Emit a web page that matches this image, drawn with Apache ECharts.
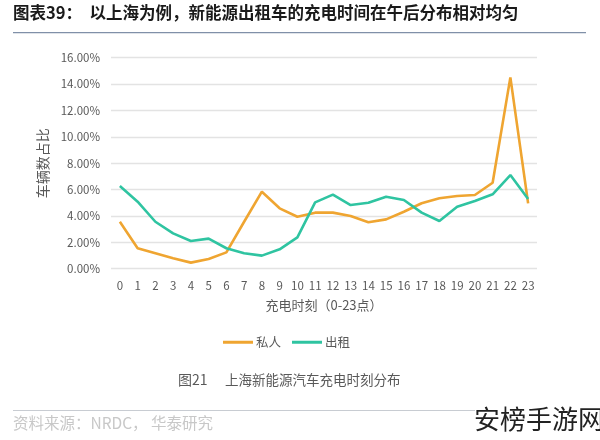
<!DOCTYPE html>
<html><head><meta charset="utf-8">
<script src="https://cdn.jsdelivr.net/npm/echarts@6/dist/echarts.min.js"></script>
<style>html,body{margin:0;padding:0;background:#fff}#c{width:600px;height:440px}</style>
</head><body><div id="c"></div>
<script>
var hours = ['0','1','2','3','4','5','6','7','8','9','10','11','12','13','14','15','16','17','18','19','20','21','22','23'];
var privateVals = [3.56,1.55,1.17,0.79,0.46,0.74,1.24,3.56,5.84,4.58,3.94,4.25,4.25,4.0,3.52,3.74,4.32,4.96,5.34,5.51,5.59,6.52,14.51,4.95];
var taxiVals = [6.27,5.08,3.56,2.68,2.1,2.28,1.55,1.17,0.99,1.47,2.38,5.03,5.62,4.83,5.0,5.46,5.21,4.25,3.62,4.70,5.13,5.64,7.1,5.28];
var yTicks = [0,2,4,6,8,10,12,14,16];
var FONT = '"Noto Sans CJK SC", "Noto Sans", sans-serif';
var chart = echarts.init(document.getElementById('c'));
chart.setOption({
  animation:false,
  backgroundColor:'#fff',
  textStyle:{fontFamily:FONT},
  grid:{left:111,right:63,top:57.7,bottom:171.3,containLabel:false},
  xAxis:{type:'category',data:hours,boundaryGap:true,
    axisLine:{show:false},axisTick:{show:false},
    axisLabel:{color:'#595959',fontSize:11.5,margin:11,interval:0},
    name:'充电时刻（0-23点）',nameLocation:'middle',nameGap:30,
    nameTextStyle:{color:'#595959',fontSize:13}},
  yAxis:{type:'value',min:yTicks[0],max:yTicks[yTicks.length-1],interval:2,
    axisLine:{show:false},axisTick:{show:false},
    splitLine:{lineStyle:{color:'#e3e3e3',width:1.3}},
    axisLabel:{color:'#595959',fontSize:11.5,margin:11,formatter:function(v){return v.toFixed(2)+'%';}},
    name:'车辆数占比',nameLocation:'middle',nameGap:58,nameRotate:90,
    nameTextStyle:{color:'#595959',fontSize:14}},
  legend:{top:331,left:218,itemWidth:30,itemHeight:3,itemGap:11,icon:'rect',
    textStyle:{color:'#595959',fontSize:12.5,padding:[0,0,0,-2]},
    data:['私人','出租']},
  series:[
    {name:'私人',type:'line',data:privateVals,symbol:'none',lineStyle:{color:'#EFA531',width:2.6},itemStyle:{color:'#EFA531'}},
    {name:'出租',type:'line',data:taxiVals,symbol:'none',lineStyle:{color:'#2FC4A1',width:2.6},itemStyle:{color:'#2FC4A1'}}
  ],
  graphic:[
    {type:'text',left:13,top:4,style:{text:'图表39：  以上海为例，新能源出租车的充电时间在午后分布相对均匀',fontSize:16.5,fontWeight:'bold',fill:'#1a1a1a',fontFamily:FONT}},
    {type:'rect',shape:{x:13,y:32,width:573,height:1.2},style:{fill:'#8090a8'}},
    {type:'text',left:178,top:373,style:{text:'图21',fontSize:14,fill:'#595959',fontFamily:FONT}},
    {type:'text',left:225,top:373,style:{text:'上海新能源汽车充电时刻分布',fontSize:13.5,fill:'#595959',fontFamily:FONT}},
    {type:'rect',shape:{x:13,y:410,width:462,height:1},style:{fill:'#c8ccd2'}},
    {type:'text',left:13,top:415,style:{text:'资料来源：NRDC， 华泰研究',fontSize:15.5,fill:'#c8c8c8',fontFamily:FONT}},
    {type:'text',left:474,top:406,style:{text:'安榜手游网',fontSize:26,fill:'#222',fontFamily:FONT}}
  ]
});
</script></body></html>
